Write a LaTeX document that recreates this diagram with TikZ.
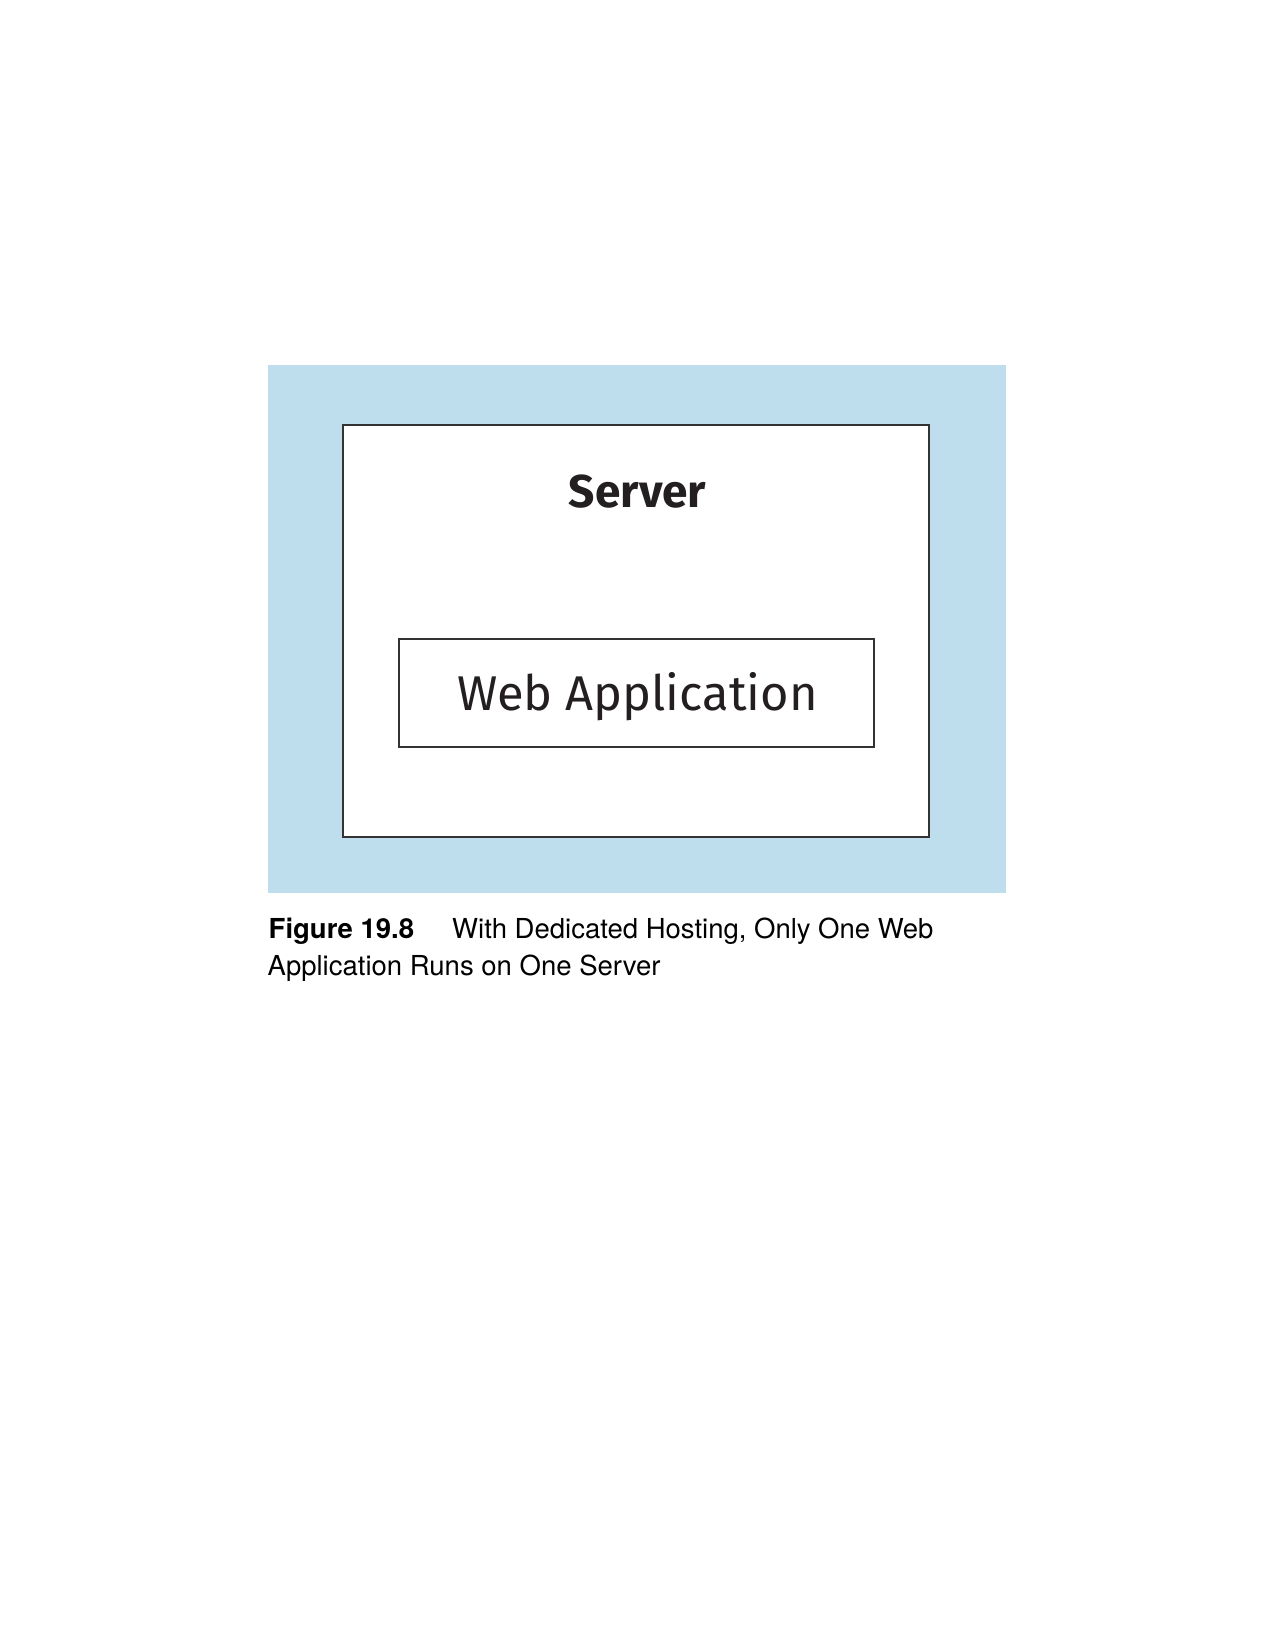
\documentclass[tikz,border=0pt]{standalone}
\usepackage{fontspec}
\newfontfamily\diagfont{Fira Sans}
\newfontfamily\capfont{TeX Gyre Heros}
\definecolor{bgblue}{RGB}{190,222,238}
\definecolor{linegray}{RGB}{51,51,51}
\definecolor{txtdark}{RGB}{35,31,32}
\begin{document}
\begin{tikzpicture}[x=1pt,y=-1pt,
  boxstyle/.style={draw=linegray,line width=2pt,fill=white,inner sep=0pt,outer sep=0pt},
  captxt/.style={anchor=base west,inner sep=0pt,font=\capfont\fontsize{27.5}{32}\selectfont,text=black}]
\useasboundingbox (0,0) rectangle (1275,1649);
\fill[white] (0,0) rectangle (1275,1649);
\fill[bgblue] (268,365) rectangle (1006,893);
\node[boxstyle,minimum width=586pt,minimum height=412pt] (server) at (636,631) {};
\node[boxstyle,minimum width=475pt,minimum height=108pt] (webapp) at (636.5,693) {};
\node[anchor=base,inner sep=0pt,text=txtdark,font=\diagfont\bfseries\fontsize{46}{50}\selectfont] (servertxt) at (637.5,507) {Server};
\node[anchor=base,inner sep=0pt,text=txtdark,font=\diagfont\fontsize{48.8}{54}\selectfont] (webtxt) at (637.5,710) {Web Application};
\node[captxt] (fignum) at (268.5,938) {\bfseries Figure 19.8};
\node[captxt] (cap1) at (452,938) {With Dedicated Hosting, Only One Web};
\node[captxt] (cap2) at (267.5,975) {Application Runs on One Server};
\end{tikzpicture}
\end{document}
